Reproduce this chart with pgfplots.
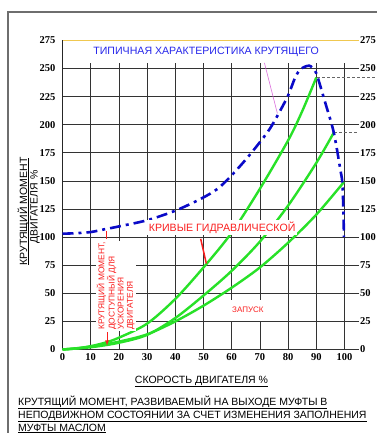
\documentclass[border=0pt]{standalone}
\usepackage{fontspec}
\setmainfont{Liberation Sans}
\newfontface\tickbf{Liberation Serif Bold}
\usepackage{pgfplots}
\pgfplotsset{compat=1.18}
\definecolor{bluec}{RGB}{10,10,200}
\definecolor{titleblue}{RGB}{40,40,235}
\definecolor{greenc}{RGB}{40,225,40}
\definecolor{redc}{RGB}{250,30,30}
\definecolor{yellowc}{RGB}{240,200,80}
\definecolor{pinkc}{RGB}{220,110,220}
\definecolor{framec}{RGB}{110,110,110}
\newcommand{\tf}{\fontsize{10.5}{10.5}\selectfont}
\newcommand{\tkf}{\tickbf\fontsize{10.5}{10.5}\selectfont}
\begin{document}
\begin{tikzpicture}
\useasboundingbox (0,-433pt) rectangle (376pt,0pt);
\fill[white] (0,-433pt) rectangle (376pt,0pt);
\draw[framec, line width=1.2pt] (8pt,-440pt) -- (8pt,-12pt) -- (380pt,-12pt);
% y label
\node[rotate=90, anchor=base, inner sep=0pt, font=\tf] at (27pt,-211.5pt) {КРУТЯЩИЙ МОМЕНТ};
\draw[black, line width=0.7pt] (28.5pt,-158pt) -- (28.5pt,-265pt);
\node[rotate=90, anchor=base, inner sep=0pt, font=\tf] at (37.5pt,-207pt) {ДВИГАТЕЛЯ \%};
% x label and caption
\node[anchor=base, inner sep=0pt, font=\tf] at (201.5pt,-383pt) {\underline{СКОРОСТЬ ДВИГАТЕЛЯ \%}};
\node[anchor=base west, inner sep=0pt, font=\tf] at (18pt,-405pt) {\underline{КРУТЯЩИЙ МОМЕНТ, РАЗВИВАЕМЫЙ НА ВЫХОДЕ МУФТЫ В}};
\node[anchor=base west, inner sep=0pt, font=\tf] at (18pt,-418pt) {\underline{НЕПОДВИЖНОМ СОСТОЯНИИ ЗА СЧЕТ ИЗМЕНЕНИЯ ЗАПОЛНЕНИЯ}};
\node[anchor=base west, inner sep=0pt, font=\tf] at (18pt,-431pt) {\underline{МУФТЫ МАСЛОМ}};
\begin{axis}[
  anchor=origin, at={(62.5pt,-349.5pt)},
  x=2.82pt, y=1.124pt,
  xmin=0, xmax=105, ymin=0, ymax=275,
  axis line style={draw=none},
  major tick length=0pt,
  xtick={0,10,...,100}, ytick={0,25,...,275},
  tick label style={font=\tkf},
  xticklabel style={anchor=north, inner sep=0pt, yshift=-4pt},
  yticklabel style={anchor=east, inner sep=0pt, xshift=-7pt},
  /pgf/number format/assume math mode=true,
  clip=false,
]
% grid
\pgfplotsinvokeforeach{0,25,...,250}{\draw[black!80, line width=0.8pt] (axis cs:0,#1) -- (axis cs:105,#1);}
\pgfplotsinvokeforeach{10,20,...,100}{\draw[black!80, line width=0.8pt] (axis cs:#1,0) -- (axis cs:#1,255);}
\draw[yellowc, line width=1pt] (axis cs:0,275) -- (axis cs:105,275);
\draw[black!85, line width=0.9pt] (axis cs:0,0) -- (axis cs:0,275);
% right labels
\pgfplotsinvokeforeach{0,25,...,275}{\node[anchor=west, inner sep=0pt, font=\tkf] at (axis cs:105.5,#1) {#1};}
% dashed
\draw[black!60, densely dashed, line width=0.5pt] (axis cs:90.3,242) -- (axis cs:115,242);
\draw[black!60, densely dashed, line width=0.5pt] (axis cs:96.2,193) -- (axis cs:104.8,193);
% white box for ZAPUSK
\fill[white] (axis cs:59.4,25.4) rectangle (axis cs:80,44);
% green curves
\addplot[greenc, line width=2.4pt, smooth] coordinates {(0,0) (5,1) (10,3) (15,6) (20,10.5) (30,23) (40,45) (50,73) (60,104) (70,143) (80,186) (85,212) (90,242)};
\addplot[greenc, line width=2.4pt, smooth] coordinates {(0,0) (10,2) (20,6) (30,13) (40,28) (50,48) (60,70) (70,96) (80,128) (90,166) (96.2,193)};
\addplot[greenc, line width=2.4pt, smooth] coordinates {(0,0) (10,2.5) (20,7) (30,13.5) (40,25) (50,39) (60,55) (70,73) (80,95) (90,120) (99.8,149)};
% blue curve
\addplot[bluec, line width=2.6pt, smooth, tension=0.5, dash pattern=on 11pt off 5pt on 3pt off 5pt] coordinates {(0,103) (5,103.5) (10,104.5) (15,107) (20,109.5) (30,115) (40,123.5) (49,134) (55,143) (60,155) (66,172) (72.6,193) (76,207) (80,226) (82.5,242) (84.5,249.5) (87.5,252.5) (89.5,248) (90.5,242) (93.3,218.5) (96.2,193) (98.6,159) (99.2,149) (99.6,125) (99.8,100)};
% pointer lines
\draw[pinkc, line width=0.6pt] (axis cs:71.6,255) -- (axis cs:76.2,210);
\draw[redc, line width=1.5pt] (axis cs:49,98.5) -- (axis cs:51,76.5);
\draw[redc, line width=0.8pt] (axis cs:15.6,98.5) -- (axis cs:15.6,105);
\draw[redc, line width=0.8pt, -latex] (axis cs:15.8,15.5) -- (axis cs:15.8,3.5);
% texts
\node[titleblue, font=\fontsize{10.6}{10.6}\selectfont, inner sep=0pt] at (axis cs:50.9,264.7) {ТИПИЧНАЯ ХАРАКТЕРИСТИКА КРУТЯЩЕГО};
\node[redc, fill=white, font=\fontsize{10.6}{10.6}\selectfont, inner sep=2pt] at (axis cs:56.6,108.5) {КРИВЫЕ ГИДРАВЛИЧЕСКОЙ};
\node[redc, anchor=west, font=\fontsize{8}{8}\selectfont, inner sep=0pt] at (axis cs:60.1,35.1) {ЗАПУСК};
\node[redc, fill=white, rotate=90, anchor=north west, align=left, inner sep=1pt, font=\fontsize{8.4}{9.2}\selectfont] at (axis cs:11.7,16.5) {КРУТЯЩИЙ МОМЕНТ,\\ДОСТУПНЫЙ ДЛЯ\\УСКОРЕНИЯ\\ДВИГАТЕЛЯ};
\end{axis}
\end{tikzpicture}
\end{document}
